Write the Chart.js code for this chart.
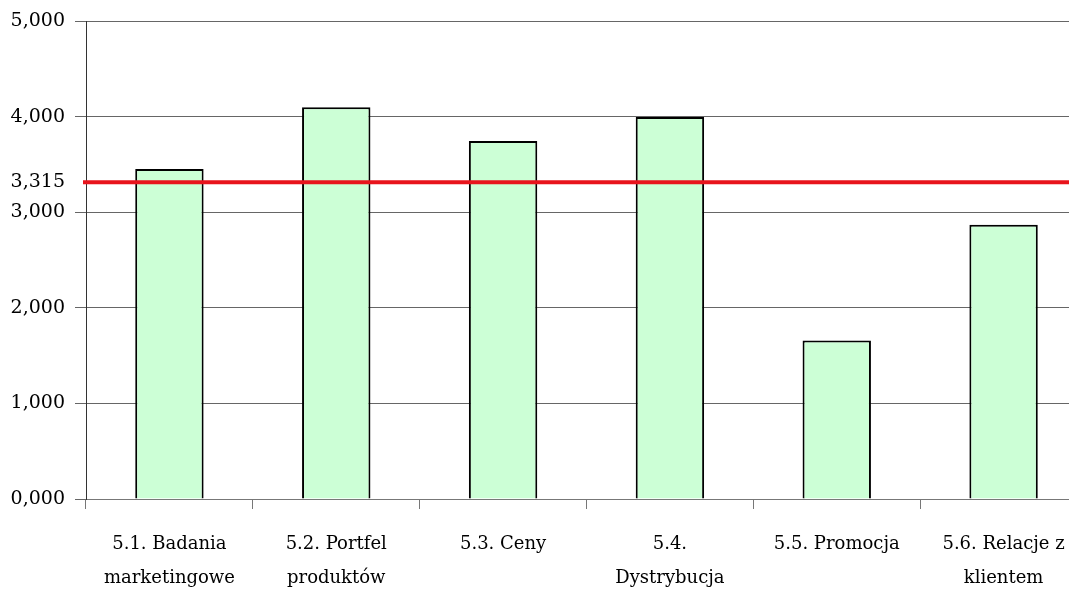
<!DOCTYPE html>
<html>
<head>
<meta charset="utf-8">
<script src="https://cdn.jsdelivr.net/npm/chart.js@4/dist/chart.umd.min.js"></script>
<style>
  html, body { margin: 0; padding: 0; background: #fff; overflow: hidden; }
  #wrap { width: 1090px; height: 591px; }
</style>
</head>
<body>
<div id="wrap"><canvas id="chart"></canvas></div>
<script>
const categories = [
  ["5.1. Badania", "marketingowe"],
  ["5.2. Portfel", "produktów"],
  ["5.3. Ceny"],
  ["5.4.", "Dystrybucja"],
  ["5.5. Promocja"],
  ["5.6. Relacje z", "klientem"],
];
const values = [3.455, 4.100, 3.747, 4.000, 1.660, 2.870];
const average = 3.315;
const yTicks = [0, 1, 2, 3, 4, 5];

const fmt = (v) => v.toFixed(3).replace(".", ",");

// red average line across the plot
const averageLine = {
  id: "averageLine",
  afterDatasetsDraw(chart) {
    const { ctx, chartArea, scales } = chart;
    const y = scales.y.getPixelForValue(average);
    ctx.save();
    ctx.strokeStyle = "#e8141c";
    ctx.lineWidth = 4;
    ctx.beginPath();
    ctx.moveTo(chartArea.left - 3, y);
    ctx.lineTo(chart.width, y);
    ctx.stroke();
    ctx.restore();
  },
};

new Chart(document.getElementById("chart"), {
  type: "bar",
  data: {
    labels: categories,
    datasets: [
      {
        data: values,
        backgroundColor: "#ccffd6",
        borderColor: "#000",
        borderWidth: 2,
        barPercentage: 0.41,
        categoryPercentage: 1,
      },
    ],
  },
  options: {
    responsive: true,
    maintainAspectRatio: false,
    animation: false,
    layout: { padding: { top: 20, right: 3, left: 0, bottom: 0 } },
    plugins: { legend: { display: false }, tooltip: { enabled: false } },
    scales: {
      x: {
        grid: {
          offset: true,
          drawOnChartArea: false,
          drawTicks: true,
          tickLength: 10,
          color: "#777",
        },
        border: { color: "#777", width: 1 },
        ticks: {
          color: "#000",
          padding: 19,
          maxRotation: 0,
          autoSkip: false,
          font: { family: "DejaVu Serif", size: 18, lineHeight: 1.85 },
        },
        afterFit(scale) {
          scale.height = 92;
        },
      },
      y: {
        min: 0,
        max: 5,
        afterBuildTicks(scale) {
          scale.ticks = yTicks.concat([average]).map((v) => ({ value: v }));
        },
        grid: {
          color: (c) => (c.tick && c.tick.value === average ? "rgba(0,0,0,0)" : "#666"),
          tickLength: 11,
          lineWidth: 1,
        },
        border: { color: "#333", width: 1 },
        ticks: {
          color: "#000",
          padding: 10,
          callback: (v) => fmt(v),
          font: { family: "DejaVu Serif", size: 19 },
        },
        afterFit(scale) {
          scale.width = 86;
        },
      },
    },
  },
  plugins: [averageLine],
});
</script>
</body>
</html>
